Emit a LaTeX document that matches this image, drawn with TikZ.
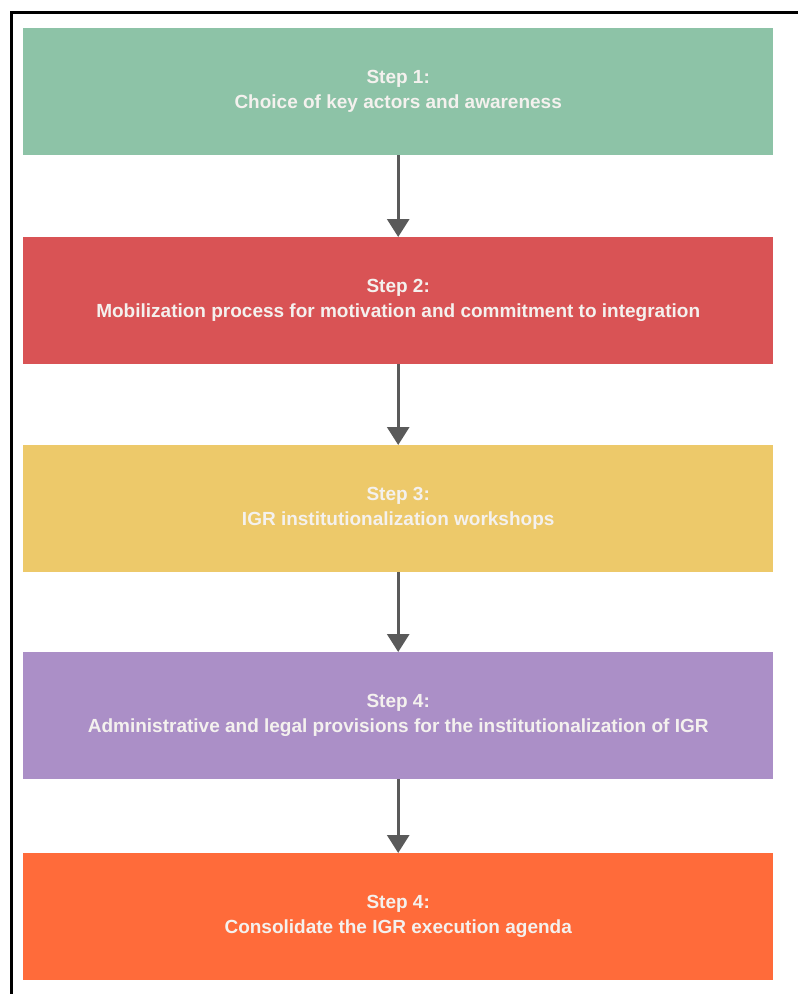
\documentclass[tikz,border=0pt]{standalone}
\usepackage{fontspec}
\setmainfont{Liberation Sans}
\usetikzlibrary{arrows.meta}
\definecolor{cgreen}{HTML}{8DC3A7}
\definecolor{cred}{HTML}{D95355}
\definecolor{cyellow}{HTML}{EDC96A}
\definecolor{cpurple}{HTML}{AB8FC7}
\definecolor{corange}{HTML}{FF6B3A}
\definecolor{carrow}{HTML}{5A5A5A}
\definecolor{ctext}{HTML}{F4F1EE}
\begin{document}
\begin{tikzpicture}[x=1pt,y=-1pt,
  stepbox/.style={fill=#1, draw=none, minimum width=750pt, minimum height=127pt,
    inner sep=0pt, text=ctext, align=center, font=\fontsize{19}{25}\selectfont\bfseries, anchor=north west},
  flow/.style={draw=carrow, line width=3pt, -{Triangle[width=22pt,length=18pt]}, shorten >=0pt}]
\useasboundingbox (0,0) rectangle (798,994);
\begin{scope}
\clip (0,0) rectangle (798,994);
\draw[line width=3pt] (11.5,12.5) rectangle (820,1020);
\end{scope}
\node[stepbox=cgreen] (s1) at (23,28) {Step 1:\\Choice of key actors and awareness};
\node[stepbox=cred] (s2) at (23,237) {Step 2:\\Mobilization process for motivation and commitment to integration};
\node[stepbox=cyellow] (s3) at (23,445) {Step 3:\\IGR institutionalization workshops};
\node[stepbox=cpurple] (s4) at (23,652) {Step 4:\\Administrative and legal provisions for the institutionalization of IGR};
\node[stepbox=corange] (s5) at (23,853) {Step 4:\\Consolidate the IGR execution agenda};
\draw[flow] (s1.south) -- (s2.north);
\draw[flow] (s2.south) -- (s3.north);
\draw[flow] (s3.south) -- (s4.north);
\draw[flow] (s4.south) -- (s5.north);
\end{tikzpicture}
\end{document}
